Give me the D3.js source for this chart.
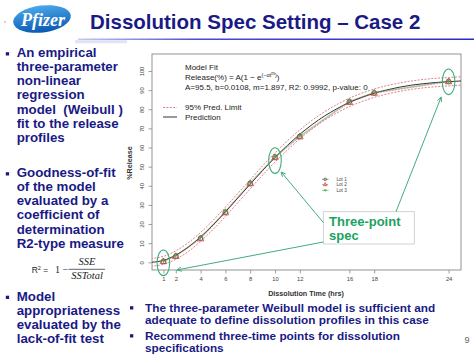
<!DOCTYPE html>
<html><head><meta charset="utf-8">
<script src="https://cdn.jsdelivr.net/npm/d3@7"></script>
<style>html,body{margin:0;padding:0;background:#fff;overflow:hidden}svg{display:block}</style>
</head><body>
<script>
// ---- data ----
const times = [1, 2, 4, 6, 8, 10, 12, 16, 18, 24];
const lot1 = [0.5, 3.2, 12.6, 26.2, 41.2, 55.0, 65.8, 84.0, 88.6, 94.6];
const lot2 = [0.3, 3.0, 12.2, 25.8, 41.0, 54.6, 65.5, 83.5, 88.3, 94.3];
const lot3 = [0.8, 3.5, 13.0, 26.8, 41.8, 55.4, 66.2, 84.3, 88.9, 94.8];
const curveTimes = [0,1,2,3,4,5,6,7,8,9,10,11,12,13,14,15,16,17,18,19,20,21,22,23,24,25];
const prediction = [0,1.0,3.8,7.9,13.3,19.5,26.4,33.6,40.8,48.0,54.8,61.1,66.9,72.0,76.5,80.3,83.6,86.2,88.4,90.1,91.5,92.6,93.4,94.0,94.4,94.8];
const upperLimit = [2.0,3.1,6.0,10.2,15.6,21.9,28.8,36.0,43.2,50.4,57.2,63.5,69.2,74.3,78.7,82.5,85.8,88.4,90.6,92.3,93.7,94.8,95.6,96.2,96.6,97.0];
const lowerLimit = [-2.0,-1.1,1.6,5.6,11.0,17.1,24.0,31.2,38.4,45.6,52.4,58.7,64.6,69.7,74.3,78.1,81.4,84.0,86.2,87.9,89.3,90.4,91.2,91.8,92.2,92.6];
const xTicks = [1, 2, 4, 6, 8, 10, 12, 16, 18, 24];
const yTicks = [0, 10, 20, 30, 40, 50, 60, 70, 80, 90, 100];
const specTimes = [1, 10, 24];
const specValues = [0.5, 55.0, 94.6];
const arrowTargets = [[10.5, 47.2], [2.1, -4.0], [23.4, 86.4]];
const lotNames = ["Lot 1", "Lot 2", "Lot 3"];
const title = "Dissolution Spec Setting \u2013 Case 2";
const leftBullets = [
  ["An empirical", "three-parameter", "non-linear", "regression", "model  (Weibull )", "fit to the release", "profiles"],
  ["Goodness-of-fit", "of the model", "evaluated by a", "coefficient of", "determination", "R2-type measure"],
  ["Model", "appropriateness", "evaluated by the", "lack-of-fit test"]
];
const bottomBullets = [
  ["The three-parameter Weibull model is sufficient and", "adequate to define dissolution profiles in this case"],
  ["Recommend three-time points for dissolution", "specifications"]
];

// ---- layout ----
const W = 474, H = 355;
const navy = "#1a1a85";
const FONT = "'Liberation Sans', Arial, sans-serif";
const svg = d3.select("body").append("svg").attr("width", W).attr("height", H)
  .style("font-family", FONT);
const defs = svg.append("defs");

// logo
const lg = defs.append("linearGradient").attr("id","logoG").attr("x1",0).attr("y1",0).attr("x2",0).attr("y2",1);
lg.append("stop").attr("offset","0%").attr("stop-color","#4aa8e8");
lg.append("stop").attr("offset","100%").attr("stop-color","#0a58b4");
svg.append("ellipse").attr("cx",42).attr("cy",19).attr("rx",29).attr("ry",13.5)
  .attr("transform","rotate(-7,42,19)").attr("fill","url(#logoG)");
svg.append("text").attr("x",21).attr("y",26).text("Pfizer")
  .attr("fill","#fff").attr("font-family","'Liberation Serif', serif").attr("font-style","italic")
  .attr("font-weight","bold").attr("font-size",18);
svg.append("circle").attr("cx",5).attr("cy",22).attr("r",0.8).attr("fill","#999");

// title
svg.append("text").attr("x",90).attr("y",29).text(title)
  .attr("fill",navy).attr("font-weight","bold").attr("font-size",20.5);
const ug = defs.append("linearGradient").attr("id","ulG");
ug.append("stop").attr("offset","0%").attr("stop-color","#c8c8f0");
ug.append("stop").attr("offset","30%").attr("stop-color","#4a4ad8");
ug.append("stop").attr("offset","100%").attr("stop-color","#2a2ac8");
svg.append("rect").attr("x",78).attr("y",38.5).attr("width",W-78).attr("height",1.5).attr("fill","url(#ulG)");
svg.append("rect").attr("x",75).attr("y",40.2).attr("width",52).attr("height",3).attr("fill","#e2e2f4");

// left bullets
const leftStarts = [57, 177, 300.5];
leftBullets.forEach((lines, i) => {
  const y0 = leftStarts[i];
  svg.append("rect").attr("x",5.8).attr("y",y0-4.8).attr("width",3.3).attr("height",3.3).attr("fill",navy);
  lines.forEach((t, j) => {
    svg.append("text").attr("x",16.7).attr("y",y0 + j*14.15).text(t)
      .attr("fill",navy).attr("font-weight","bold").attr("font-size",13.3).style("white-space","pre")
      .attr("xml:space","preserve");
  });
});

// R2 formula
svg.append("text").attr("x",31.7).attr("y",273).attr("font-size",8.5).attr("fill","#222")
  .html('R<tspan dy="-3" font-size="5.5">2</tspan><tspan dy="3"> =</tspan>');
svg.append("text").attr("x",55).attr("y",273).attr("font-size",10).attr("fill","#222")
  .attr("font-family","'Liberation Serif', serif").text("1 \u2212");
svg.append("text").attr("x",87).attr("y",265).attr("text-anchor","middle").attr("font-size",10.5)
  .attr("font-family","'Liberation Serif', serif").attr("font-style","italic").attr("fill","#222").text("SSE");
svg.append("line").attr("x1",68.5).attr("x2",105).attr("y1",269.3).attr("y2",269.3).attr("stroke","#222").attr("stroke-width",0.7);
svg.append("text").attr("x",87).attr("y",279).attr("text-anchor","middle").attr("font-size",10.5)
  .attr("font-family","'Liberation Serif', serif").attr("font-style","italic").attr("fill","#222").text("SSTotal");

// bottom bullets
const bottomStarts = [311.5, 339.5];
bottomBullets.forEach((lines, i) => {
  const y0 = bottomStarts[i];
  svg.append("rect").attr("x",130).attr("y",y0-5.3).attr("width",3.3).attr("height",3.3).attr("fill",navy);
  lines.forEach((t, j) => {
    svg.append("text").attr("x",145).attr("y",y0 + j*12.8).text(t)
      .attr("fill",navy).attr("font-weight","bold").attr("font-size",11.8);
  });
});
svg.append("text").attr("x",467).attr("y",343).attr("text-anchor","middle").attr("font-size",9)
  .attr("fill","#666").text("9");

// ---- chart ----
const box = {l:152, r:461, t:54, b:270};
const x = d3.scaleLinear().domain([0, 25]).range([151, 461]);
const y = d3.scaleLinear().domain([0, 100]).range([262.3, 71]);

defs.append("clipPath").attr("id","plotClip").append("rect")
  .attr("x",box.l).attr("y",box.t).attr("width",box.r-box.l).attr("height",box.b-box.t);

const g = svg.append("g");
// axes (R style)
const xAxis = g.append("g").attr("transform",`translate(0,${box.b})`)
  .call(d3.axisBottom(x).tickValues(xTicks).tickSize(3.5).tickPadding(3));
xAxis.select(".domain").remove();
xAxis.selectAll("line").attr("stroke","#777").attr("stroke-width",0.7);
xAxis.selectAll("text").attr("font-size",5.8).attr("fill","#444").attr("font-family",FONT);

const yAxis = g.append("g").attr("transform",`translate(${box.l},0)`)
  .call(d3.axisLeft(y).tickValues(yTicks).tickSize(3.5).tickPadding(0));
yAxis.select(".domain").remove();
yAxis.selectAll("line").attr("stroke","#777").attr("stroke-width",0.7);
yAxis.selectAll("text").attr("font-size",5.8).attr("fill","#444").attr("font-family",FONT)
  .attr("text-anchor","middle").attr("x",0).attr("dy",0)
  .attr("transform","translate(-8.5,0) rotate(-90)");

g.append("rect").attr("x",box.l).attr("y",box.t).attr("width",box.r-box.l).attr("height",box.b-box.t)
  .attr("fill","none").attr("stroke","#888").attr("stroke-width",0.9);

g.append("text").attr("transform",`translate(131.5,${(box.t+box.b)/2 + 1}) rotate(-90)`)
  .attr("text-anchor","middle").attr("font-size",7.2).attr("font-weight","bold").attr("fill","#333").text("%Release");
g.append("text").attr("x",306).attr("y",295.5).attr("text-anchor","middle")
  .attr("font-size",7.2).attr("font-weight","bold").attr("fill","#333").text("Dissolution Time (hrs)");

const plot = g.append("g").attr("clip-path","url(#plotClip)");
const line = d3.line().x(d => x(d[0])).y(d => y(d[1])).curve(d3.curveMonotoneX);
const zipT = (ts, vs) => ts.map((t, i) => [t, vs[i]]);

[upperLimit, lowerLimit].forEach(arr => {
  plot.append("path").attr("d", line(zipT(curveTimes, arr))).attr("fill","none")
    .attr("stroke","#e07080").attr("stroke-width",0.9).attr("stroke-dasharray","2,1.4");
});
plot.append("path").attr("d", line(zipT(curveTimes, prediction))).attr("fill","none")
  .attr("stroke","#333").attr("stroke-width",1);

const lotColors = ["#555", "#c84040", "#40a840"];
const lotData = [lot1, lot2, lot3];
const lineStraight = d3.line().x(d => x(d[0])).y(d => y(d[1]));
lotData.forEach((vals, k) => {
  plot.append("path").attr("d", lineStraight(zipT(times, vals))).attr("fill","none")
    .attr("stroke", lotColors[k]).attr("stroke-width",0.5).attr("opacity",0.7)
    .attr("stroke-dasharray", k===1 ? "2,1" : null);
});
const sym = [d3.symbolCircle, d3.symbolTriangle, d3.symbolCross];
function drawMarker(sel, k, cx, cy, size) {
  if (k === 2) {
    const s = size;
    sel.append("path").attr("d",`M${cx-s},${cy}H${cx+s}M${cx},${cy-s}V${cy+s}`)
      .attr("stroke",lotColors[2]).attr("stroke-width",0.8);
  } else {
    sel.append("path").attr("d", d3.symbol().type(sym[k]).size(size*size*3.2)())
      .attr("transform",`translate(${cx},${cy})`).attr("fill","none")
      .attr("stroke",lotColors[k]).attr("stroke-width",0.8);
  }
}
lotData.forEach((vals, k) => {
  times.forEach((t, i) => drawMarker(plot, k, x(t), y(vals[i]), 2.4));
});

// model fit legend
const leg = g.append("g").attr("font-size",8).attr("fill","#222");
leg.append("text").attr("x",185).attr("y",69.5).text("Model Fit");
leg.append("text").attr("x",185).attr("y",80)
  .html('Release(%) = A(1 \u2212 e<tspan dy="-3.5" font-size="5.5">(\u2212\u03b1t</tspan><tspan dy="-2" font-size="4.5">m</tspan><tspan dy="2" font-size="5.5">)</tspan><tspan dy="3.5">)</tspan>');
leg.append("text").attr("x",185).attr("y",89.5).text("A=95.5, b=0.0108, m=1.897, R2: 0.9992, p-value: 0");
leg.append("line").attr("x1",163).attr("x2",177).attr("y1",107.5).attr("y2",107.5)
  .attr("stroke","#e07080").attr("stroke-width",0.9).attr("stroke-dasharray","2,1.4");
leg.append("text").attr("x",185).attr("y",110).text("95% Pred. Limit");
leg.append("line").attr("x1",163).attr("x2",177).attr("y1",117).attr("y2",117)
  .attr("stroke","#333").attr("stroke-width",1);
leg.append("text").attr("x",185).attr("y",119.5).text("Prediction");

// lot legend
const lotRows = [179.3, 184.6, 190.3];
lotNames.forEach((n, k) => {
  g.append("line").attr("x1",322).attr("x2",328.5).attr("y1",lotRows[k]).attr("y2",lotRows[k])
    .attr("stroke",lotColors[k]).attr("stroke-width",0.6).attr("stroke-dasharray", k===1 ? "1.5,0.8" : null);
  drawMarker(g, k, 325.2, lotRows[k], 1.3);
  g.append("text").attr("x",336.5).attr("y",lotRows[k]+1.6).attr("font-size",4.6).attr("fill","#444").text(n);
});

// spec ellipses
const green = "#3fae7c";
specTimes.forEach((t, i) => {
  g.append("ellipse").attr("cx",x(t)).attr("cy",y(specValues[i]) + (i===1 ? 3.5 : (i===2 ? 0.5 : 1.5)))
    .attr("rx",6.3).attr("ry",12.8).attr("fill","none").attr("stroke",green).attr("stroke-width",1.1);
});

// callout
const cb = {x:323.3, y:211.7, w:91, h:32.3};
g.append("rect").attr("x",cb.x).attr("y",cb.y).attr("width",cb.w).attr("height",cb.h)
  .attr("fill","#fff").attr("stroke","#c8c8c8").attr("stroke-width",0.8);
g.append("text").attr("x",329).attr("y",225.5).attr("font-size",13).attr("font-weight","bold").attr("fill","#1aa260").text("Three-point");
g.append("text").attr("x",329).attr("y",239.5).attr("font-size",13).attr("font-weight","bold").attr("fill","#1aa260").text("spec");

const arrowStarts = [[323.3, 222.5], [323.3, 242], [396, 211.7]];
arrowTargets.forEach((tg, i) => {
  const [sx, sy] = arrowStarts[i];
  const ex = x(tg[0]), ey = y(tg[1]);
  g.append("line").attr("x1",sx).attr("y1",sy).attr("x2",ex).attr("y2",ey)
    .attr("stroke",green).attr("stroke-width",1);
  const ang = Math.atan2(ey - sy, ex - sx);
  const L = 5, a = 0.45;
  const p1 = [ex - L*Math.cos(ang - a), ey - L*Math.sin(ang - a)];
  const p2 = [ex - L*Math.cos(ang + a), ey - L*Math.sin(ang + a)];
  g.append("path").attr("d",`M${p1[0]},${p1[1]}L${ex},${ey}L${p2[0]},${p2[1]}`)
    .attr("fill","none").attr("stroke",green).attr("stroke-width",1);
});
</script>
</body></html>
